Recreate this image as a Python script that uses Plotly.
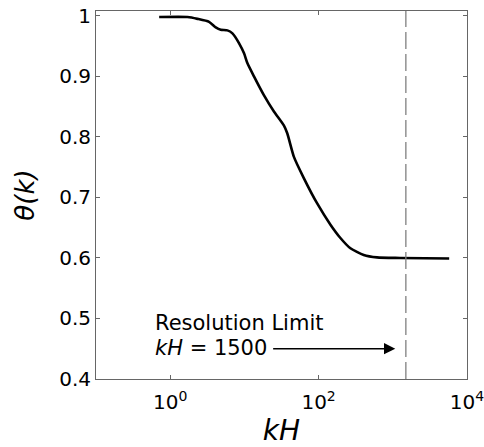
import math
import plotly.graph_objects as go

# ---- data ----
kH = [0.71, 1.71, 2.33, 3.34, 4.11, 4.80, 5.90, 6.90, 8.45, 9.89, 10.96, 13.46,
      18.3, 25.0, 34.0, 37.8, 46.5, 63.2, 95.7, 144.5, 196.8, 268.5, 405.5,
      612.4, 1259.0, 5754.0]
theta = [0.998, 0.998, 0.995, 0.990, 0.981, 0.977, 0.976, 0.971, 0.955, 0.938,
         0.922, 0.900, 0.869, 0.842, 0.819, 0.806, 0.767, 0.732, 0.690, 0.655,
         0.633, 0.616, 0.605, 0.601, 0.600, 0.599]

resolution_limit = 1500
x_tickvals = [1, 100, 10000]
x_ticktext = ["10<sup>0</sup>", "10<sup>2</sup>", "10<sup>4</sup>"]
y_tickvals = [0.4, 0.5, 0.6, 0.7, 0.8, 0.9, 1.0]
y_ticktext = ["0.4", "0.5", "0.6", "0.7", "0.8", "0.9", "1"]
x_range = [0.1, 10002]
y_range = [0.4, 1.008]
arrow_start = 23.3
arrow_end = 1080
label_x = 0.58

FONT = "DejaVu Sans"
AXCOL = "#666666"

fig = go.Figure()
fig.add_trace(go.Scatter(
    x=kH, y=theta, mode="lines",
    line=dict(color="black", width=2.6, shape="spline", smoothing=0.6),
    showlegend=False, hoverinfo="skip"))
fig.add_trace(go.Scatter(
    x=[resolution_limit, resolution_limit], y=y_range, mode="lines",
    line=dict(color="#808080", width=1.3, dash="17px,5px"),
    showlegend=False, hoverinfo="skip"))

fig.add_annotation(x=math.log10(label_x), y=0.493, xref="x", yref="y",
                   text="Resolution Limit", showarrow=False,
                   xanchor="left", yanchor="middle",
                   font=dict(family=FONT, size=21, color="black"))
fig.add_annotation(x=math.log10(label_x), y=0.451, xref="x", yref="y",
                   text="<i>kH</i> = 1500", showarrow=False,
                   xanchor="left", yanchor="middle",
                   font=dict(family=FONT, size=21, color="black"))
fig.add_annotation(x=math.log10(arrow_end), y=0.45, xref="x", yref="y",
                   ax=math.log10(arrow_start), ay=0.45, axref="x", ayref="y",
                   text="", showarrow=True, arrowhead=2, arrowsize=1.5,
                   arrowwidth=1.5, arrowcolor="black", standoff=0, startstandoff=0)

fig.update_layout(
    width=484, height=447,
    margin=dict(l=96, r=17, t=11, b=68),
    plot_bgcolor="white", paper_bgcolor="white",
    font=dict(family=FONT, color="black"),
)
fig.update_xaxes(
    type="log", range=[math.log10(x_range[0]), math.log10(x_range[1])],
    tickvals=x_tickvals, ticktext=x_ticktext, ticklabeloverflow="allow",
    automargin=False, ticklabelstandoff=5,
    ticks="inside", ticklen=4, tickwidth=1, tickcolor=AXCOL,
    showline=True, linecolor=AXCOL, linewidth=1, mirror="ticks",
    showgrid=False, zeroline=False,
    tickfont=dict(family=FONT, size=20, color="black"),
    title=dict(text="<i>kH</i>", font=dict(family=FONT, size=28, color="black"), standoff=12),
)
fig.update_yaxes(
    range=y_range, tickvals=y_tickvals, ticktext=y_ticktext,
    automargin=False,
    ticks="inside", ticklen=4, tickwidth=1, tickcolor=AXCOL,
    showline=True, linecolor=AXCOL, linewidth=1, mirror="ticks",
    showgrid=False, zeroline=False,
    tickfont=dict(family=FONT, size=20, color="black"),
    title=dict(text="<i>θ(k)</i>", font=dict(family=FONT, size=26, color="black"), standoff=17),
)

fig.write_html("out.html", config={"displayModeBar": False},
               post_script="document.body.style.margin='0';")
